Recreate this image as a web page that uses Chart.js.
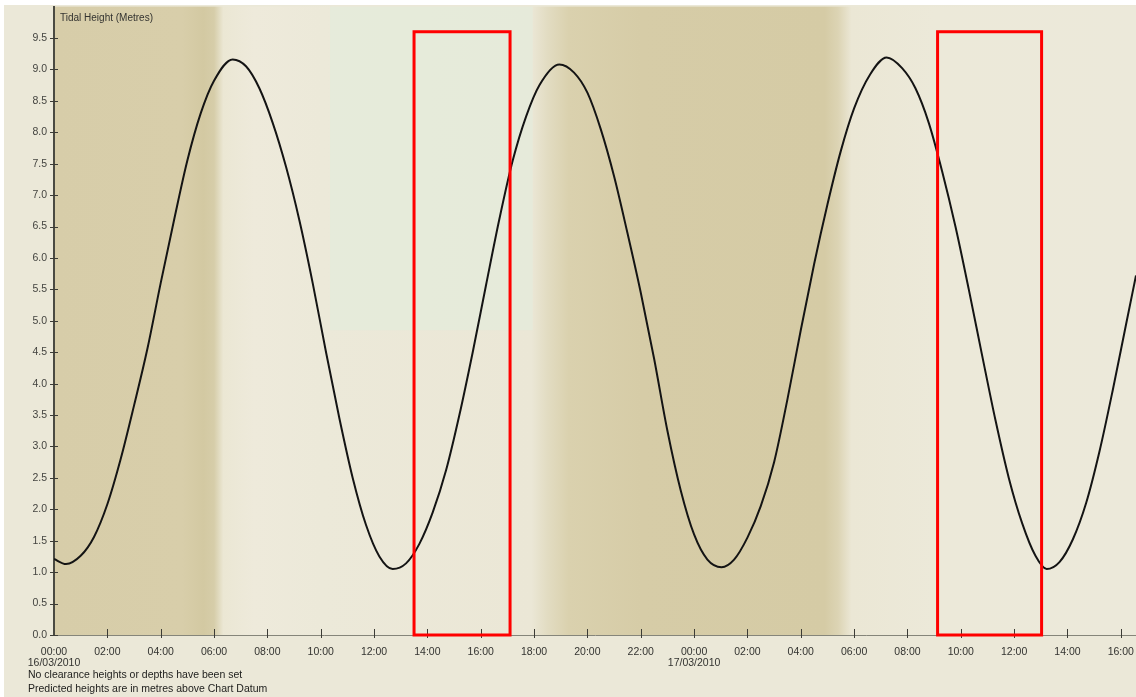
<!DOCTYPE html>
<html>
<head>
<meta charset="utf-8">
<title>Tidal Height</title>
<script src="https://cdn.jsdelivr.net/npm/chart.js@4.4.1/dist/chart.umd.min.js"></script>
<style>
  html, body { margin: 0; padding: 0; background: #ebe8d8; overflow: hidden; }
  #wrap { position: relative; width: 1136px; height: 697px; }
</style>
</head>
<body>
<div id="wrap"><canvas id="tide" width="1136" height="697"></canvas></div>
<script>
// Predicted tide, hours from 00:00 on 16/03/2010
const hours = [
  0, 0.45, 1.0, 1.5, 2.0, 2.5, 3.0, 3.5, 4.0, 4.5, 5.0, 5.5, 6.0, 6.7,
  7.2, 7.7, 8.2, 8.7, 9.2, 9.7, 10.2, 10.7, 11.2, 11.7, 12.2, 12.7,
  13.2, 13.7, 14.2, 14.7, 15.2, 15.7, 16.2, 16.7, 17.2, 17.7, 18.2, 18.95,
  19.5, 20.0, 20.5, 21.0, 21.5, 22.0, 22.5, 23.0, 23.5, 24.0, 24.5, 25.03,
  25.5, 26.0, 26.5, 27.0, 27.5, 28.0, 28.5, 29.0, 29.5, 30.0, 30.6, 31.22,
  31.8, 32.3, 32.8, 33.3, 33.8, 34.3, 34.8, 35.3, 35.8, 36.3, 36.8, 37.22,
  37.7, 38.2, 38.7, 39.2, 39.7, 40.2, 40.57
];
const heights = [
  1.21, 1.13, 1.26, 1.56, 2.08, 2.80, 3.65, 4.55, 5.60, 6.60, 7.55, 8.30, 8.82, 9.16,
  9.05, 8.70, 8.15, 7.45, 6.60, 5.60, 4.50, 3.45, 2.50, 1.75, 1.25, 1.05,
  1.14, 1.45, 1.95, 2.62, 3.50, 4.50, 5.57, 6.62, 7.55, 8.25, 8.75, 9.08,
  8.95, 8.63, 8.05, 7.30, 6.40, 5.45, 4.40, 3.25, 2.30, 1.60, 1.20, 1.08,
  1.20, 1.55, 2.05, 2.75, 3.75, 4.85, 5.90, 6.85, 7.70, 8.38, 8.92, 9.19,
  9.02, 8.70, 8.15, 7.38, 6.50, 5.50, 4.45, 3.42, 2.50, 1.78, 1.26, 1.05,
  1.16, 1.52, 2.10, 2.92, 3.90, 4.95, 5.72
];

// Axis ticks
const xTickHours = [0, 2, 4, 6, 8, 10, 12, 14, 16, 18, 20, 22, 24, 26, 28, 30, 32, 34, 36, 38, 40];
const dayLabels = ['16/03/2010', '17/03/2010'];
const yTickValues = [0, 0.5, 1, 1.5, 2, 2.5, 3, 3.5, 4, 4.5, 5, 5.5, 6, 6.5, 7, 7.5, 8, 8.5, 9, 9.5];

// Daylight / darkness shading across the plot (hour, colour)
const shadeHours  = [0, 4.8, 5.6, 6.0, 6.35, 7.5, 10.0, 17.9, 18.5, 19.3, 22.0, 28.9, 29.4, 29.9, 33.0, 40.57];
const shadeColors = ['#d7cda9', '#d8ceaa', '#d3c9a2', '#d6cda9', '#ebe7d4', '#eeeadb', '#ece9d9', '#ebe7d6',
                     '#e2dcc2', '#dad1ae', '#d6cca7', '#d5cba5', '#dcd4b4', '#ebe7d5', '#ece9d9', '#ece9da'];

// Marked time windows [from hour, to hour] and their upper height
const windowHours = [[13.5, 17.1], [33.13, 37.03]];
const windowTop = 9.6;

const notes = [
  'No clearance heights or depths have been set',
  'Predicted heights are in metres above Chart Datum'
];
const axisTitle = 'Tidal Height (Metres)';

const FONT = '"Liberation Sans", Arial, sans-serif';

function hhmm(h) {
  const hh = ((h % 24) + 24) % 24;
  return String(hh).padStart(2, '0') + ':00';
}

function noPadding(s) {
  s.paddingTop = 0; s.paddingBottom = 0; s.paddingLeft = 0; s.paddingRight = 0;
}

const backdrop = {
  id: 'backdrop',
  beforeDraw(chart) {
    const { ctx, chartArea: a, scales: { x, y } } = chart;
    ctx.save();
    ctx.fillStyle = '#ebe8d8';
    ctx.fillRect(0, 0, chart.width, chart.height);
    ctx.fillStyle = '#ffffff';
    ctx.fillRect(0, 0, chart.width, 5);
    ctx.fillRect(0, 0, 4, chart.height);

    const x0 = x.getPixelForValue(shadeHours[0]);
    const x1 = x.getPixelForValue(shadeHours[shadeHours.length - 1]);
    const g = ctx.createLinearGradient(x0, 0, x1, 0);
    shadeHours.forEach((h, i) => {
      g.addColorStop((x.getPixelForValue(h) - x0) / (x1 - x0), shadeColors[i]);
    });
    ctx.fillStyle = g;
    ctx.fillRect(a.left, a.top, a.right - a.left, a.bottom - a.top);

    // pale patch in the upper daytime area
    const px0 = x.getPixelForValue(10.35), px1 = x.getPixelForValue(17.95);
    const py1 = y.getPixelForValue(4.85);
    ctx.fillStyle = 'rgba(226,236,220,0.6)';
    ctx.fillRect(px0, a.top, px1 - px0, py1 - a.top);
    ctx.restore();
  },
  afterDatasetsDraw(chart) {
    const { ctx, chartArea: a, scales: { x, y } } = chart;
    ctx.save();

    // tick marks crossing the axes
    ctx.strokeStyle = '#3c3c36';
    ctx.lineWidth = 1;
    yTickValues.forEach(v => {
      const py = Math.round(y.getPixelForValue(v)) + 0.5;
      ctx.beginPath();
      ctx.moveTo(a.left - 4, py);
      ctx.lineTo(a.left + 4, py);
      ctx.stroke();
    });
    xTickHours.forEach(h => {
      if (h === 0) return;
      const px = Math.round(x.getPixelForValue(h)) + 0.5;
      ctx.beginPath();
      ctx.moveTo(px, a.bottom - 6);
      ctx.lineTo(px, a.bottom + 3);
      ctx.stroke();
    });

    // marked windows
    ctx.strokeStyle = '#ff0000';
    ctx.lineWidth = 3;
    windowHours.forEach(([h0, h1]) => {
      const l = x.getPixelForValue(h0), r = x.getPixelForValue(h1);
      const t = y.getPixelForValue(windowTop), b = y.getPixelForValue(0);
      ctx.strokeRect(l, t, r - l, b - t);
    });

    // axis title inside the plot
    ctx.fillStyle = '#333330';
    ctx.font = '10px ' + FONT;
    ctx.textBaseline = 'middle';
    ctx.textAlign = 'left';
    ctx.fillText(axisTitle, a.left + 6, 18);

    // footnotes
    ctx.fillStyle = '#222220';
    ctx.font = '10.5px ' + FONT;
    ctx.fillText(notes[0], 28, 675);
    ctx.fillText(notes[1], 28, 689);
    ctx.restore();
  }
};

new Chart(document.getElementById('tide'), {
  type: 'line',
  data: {
    datasets: [{
      label: 'Tidal height',
      data: hours.map((h, i) => ({ x: h, y: heights[i] })),
      borderColor: '#141414',
      borderWidth: 2,
      pointRadius: 0,
      fill: false,
      cubicInterpolationMode: 'monotone'
    }]
  },
  options: {
    responsive: false,
    animation: false,
    devicePixelRatio: 1,
    layout: { padding: { top: 6.6, left: 0, right: 0, bottom: 0 } },
    plugins: { legend: { display: false }, tooltip: { enabled: false } },
    scales: {
      x: {
        type: 'linear',
        min: 0,
        max: 40.57,
        afterBuildTicks: s => { s.ticks = xTickHours.map(v => ({ value: v })); },
        afterFit: s => { s.height = 62; noPadding(s); },
        grid: { drawOnChartArea: false, drawTicks: false },
        border: { display: true, color: '#85857a', width: 1 },
        ticks: {
          autoSkip: false,
          maxRotation: 0,
          padding: 11,
          color: '#333330',
          font: { family: FONT, size: 10.5, lineHeight: 1.1 },
          callback: v => (v % 24 === 0 ? [hhmm(v), dayLabels[v / 24]] : hhmm(v))
        }
      },
      y: {
        type: 'linear',
        min: 0,
        max: 10,
        afterBuildTicks: s => { s.ticks = yTickValues.map(v => ({ value: v })); },
        afterFit: s => { s.width = 54; noPadding(s); },
        grid: { drawOnChartArea: false, drawTicks: false },
        border: { display: true, color: '#4a4a42', width: 2 },
        ticks: {
          padding: 7,
          color: '#444440',
          font: { family: FONT, size: 10.5 },
          callback: v => Number(v).toFixed(1)
        }
      }
    }
  },
  plugins: [backdrop]
});
</script>
</body>
</html>
